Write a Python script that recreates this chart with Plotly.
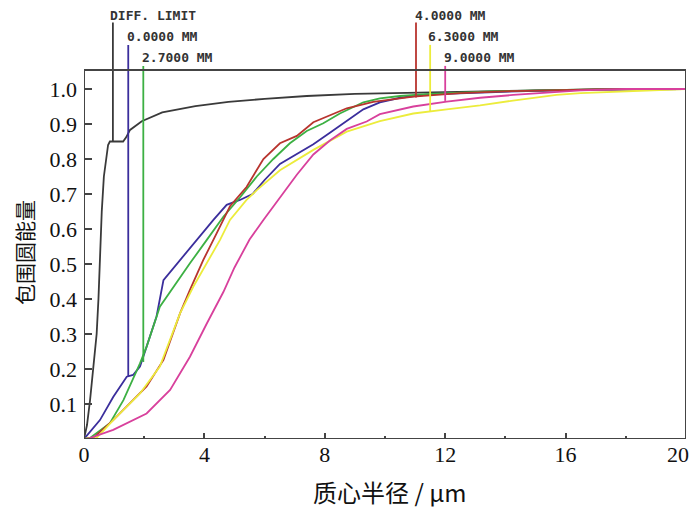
import plotly.graph_objects as go

# encircled energy curves (x: centroid radius in um)
diff_x = [0, 0.1, 0.2, 0.3, 0.42, 0.48, 0.53, 0.59, 0.66, 0.73, 0.8, 0.86, 1.3, 1.4, 1.53,
          1.92, 2.6, 3.7, 4.8, 6.0, 7.4, 9.0, 11.0, 13.0, 15.0, 17.0, 20.0]
diff_y = [0, 0.04, 0.11, 0.2, 0.3, 0.4, 0.52, 0.65, 0.75, 0.8, 0.84, 0.85, 0.85, 0.862, 0.883,
          0.908, 0.933, 0.951, 0.963, 0.972, 0.98, 0.986, 0.989, 0.993, 0.996, 0.999, 1.0]

f00_x = [0, 0.53, 0.97, 1.42, 1.63, 1.86, 2.08, 2.41, 2.64, 3.19, 3.74, 4.3, 4.74, 5.18, 5.6,
         6.0, 6.51, 7.07, 7.62, 8.17, 8.73, 9.28, 9.83, 10.5, 11.5, 13.0, 15.0, 17.0, 20.0]
f00_y = [0, 0.054, 0.12, 0.178, 0.183, 0.207, 0.264, 0.35, 0.454, 0.511, 0.569, 0.626, 0.669,
         0.683, 0.70, 0.74, 0.786, 0.815, 0.842, 0.875, 0.909, 0.942, 0.962, 0.975, 0.985,
         0.99, 0.995, 0.998, 1.0]

f27_x = [0, 0.2, 0.86, 1.31, 1.86, 2.08, 2.52, 2.97, 3.52, 4.08, 4.63, 5.18, 5.74, 6.29, 6.84,
         7.4, 7.95, 8.5, 9.28, 9.83, 10.5, 11.5, 13.5, 15.0, 17.0, 20.0]
f27_y = [0, 0.003, 0.045, 0.111, 0.216, 0.264, 0.378, 0.435, 0.502, 0.569, 0.635, 0.69, 0.75,
         0.80, 0.845, 0.88, 0.902, 0.93, 0.962, 0.973, 0.98, 0.986, 0.993, 0.996, 0.999, 1.0]

f40_x = [0, 0.31, 0.97, 1.53, 2.08, 2.64, 3.19, 3.52, 3.96, 4.41, 4.85, 5.4, 5.96, 6.51, 7.07,
         7.62, 8.17, 8.73, 9.61, 10.94, 12.5, 14.2, 15.5, 17.0, 20.0]
f40_y = [0, 0.003, 0.054, 0.102, 0.15, 0.226, 0.359, 0.426, 0.511, 0.588, 0.665, 0.72, 0.80,
         0.845, 0.866, 0.905, 0.925, 0.945, 0.963, 0.978, 0.988, 0.994, 0.996, 0.999, 1.0]

f63_x = [0, 0.42, 0.97, 1.86, 2.52, 3.19, 3.63, 4.08, 4.52, 4.85, 5.4, 5.74, 6.51, 7.62, 8.73,
         9.83, 10.94, 12.05, 13.16, 14.25, 15.2, 15.7, 16.5, 17.5, 18.7, 20.0]
f63_y = [0, 0.003, 0.054, 0.13, 0.207, 0.359, 0.435, 0.502, 0.569, 0.626, 0.683, 0.711, 0.768,
         0.826, 0.878, 0.908, 0.93, 0.942, 0.953, 0.967, 0.977, 0.983, 0.988, 0.992, 0.995, 1.0]

f90_x = [0, 0.1, 0.97, 2.08, 2.86, 3.52, 4.08, 4.63, 5.0, 5.5, 5.96, 6.51, 6.84, 7.07, 7.62,
         8.17, 8.73, 9.39, 9.83, 10.94, 12.05, 13.16, 14.26, 15.4, 16.5, 18.0, 20.0]
f90_y = [0, 0, 0.026, 0.073, 0.14, 0.235, 0.33, 0.42, 0.49, 0.57, 0.626, 0.69, 0.73, 0.755,
         0.813, 0.853, 0.886, 0.907, 0.928, 0.95, 0.964, 0.975, 0.983, 0.989, 0.996, 1.0, 1.0]

series_names = ["DIFF. LIMIT", "0.0000 MM", "2.7000 MM", "4.0000 MM", "6.3000 MM", "9.0000 MM"]
series_colors = ["#3a3a3a", "#3b2e9c", "#3cb043", "#b8342e", "#ecec3c", "#d8409c"]
series_xy = [(diff_x, diff_y), (f00_x, f00_y), (f27_x, f27_y),
             (f40_x, f40_y), (f63_x, f63_y), (f90_x, f90_y)]

# field markers: vertical lines from the curve up to the label
marker_x = [0.96, 1.47, 1.97, 11.03, 11.5, 12.0]
marker_bottom = [0.85, 0.179, 0.22, 0.976, 0.935, 0.966]
marker_top = [1.19, 1.126, 1.066, 1.19, 1.126, 1.066]
label_x = [0.80, 1.36, 1.86, 10.93, 11.36, 11.89]
label_y = [1.211, 1.149, 1.089, 1.211, 1.149, 1.089]

x_ticks = [0, 4, 8, 12, 16, 20]
y_ticks = [0.1, 0.2, 0.3, 0.4, 0.5, 0.6, 0.7, 0.8, 0.9, 1.0]
y_top = 1.054
y_max = 1.2

tick_font = dict(family="Liberation Serif", size=22, color="#111111")

fig = go.Figure()
for name, color, (xs, ys) in zip(series_names, series_colors, series_xy):
    fig.add_trace(go.Scatter(x=xs, y=ys, mode="lines", name=name,
                             line=dict(color=color, width=1.8), showlegend=False))

for name, color, mx, yb, yt in zip(series_names, series_colors, marker_x, marker_bottom, marker_top):
    fig.add_trace(go.Scatter(x=[mx, mx], y=[yb, yt], mode="lines", showlegend=False,
                             line=dict(color=color, width=1.8), hoverinfo="skip"))

# labels sit above the y range, so place them in paper units
for name, lx, ly in zip(series_names, label_x, label_y):
    fig.add_annotation(x=lx, yref="paper", y=ly / y_max, text=f"<b>{name}</b>", showarrow=False,
                       xanchor="left", yanchor="middle",
                       font=dict(family="DejaVu Sans Mono", size=13, color="#333333"))

# plot frame only up to y_top; markers rise above it
fig.add_shape(type="rect", x0=0, x1=20, y0=0, y1=y_top,
              line=dict(color="#444444", width=2), layer="above")

# last x tick label is pulled inside the frame as in the original
fig.add_annotation(x=x_ticks[-1], yref="paper", y=-0.038, text=str(x_ticks[-1]),
                   showarrow=False, xanchor="right", yanchor="middle", xshift=5,
                   font=tick_font)

fig.add_annotation(xref="paper", yref="paper", x=-0.0997, y=0.534 / y_max, text="包围圆能量",
                   textangle=-90, showarrow=False, xanchor="center", yanchor="middle",
                   borderpad=0,
                   font=dict(family="Noto Sans CJK SC", size=21, color="#111111"))
fig.add_annotation(xref="paper", yref="paper", x=0.508, y=-0.126, text="质心半径 / μm",
                   showarrow=False, xanchor="center", yanchor="middle",
                   font=dict(family="Noto Sans CJK SC, Liberation Serif", size=24, color="#111111"))

fig.update_xaxes(range=[0, 20], tickvals=x_ticks,
                 ticktext=[str(v) for v in x_ticks[:-1]] + [""],
                 ticks="inside", ticklen=6, tickwidth=2,
                 tickcolor="#444444", showgrid=False, zeroline=False, showline=False,
                 automargin=False,
                 minor=dict(dtick=2, ticks="inside", ticklen=3, tickwidth=2, tickcolor="#444444"),
                 tickfont=tick_font)
fig.update_yaxes(range=[0, y_max], tickvals=y_ticks, ticktext=[f"{v:.1f}" for v in y_ticks],
                 ticks="inside", ticklen=8, tickwidth=2, tickcolor="#444444",
                 showgrid=False, zeroline=False, showline=False, ticklabelstandoff=6,
                 automargin=False, tickfont=tick_font)
# page body adds an 8px offset, so the figure is shifted by that much
fig.update_layout(width=692, height=501, margin=dict(l=76, r=14, t=11, b=70),
                  plot_bgcolor="white", paper_bgcolor="white")

fig.write_html("out.html")
